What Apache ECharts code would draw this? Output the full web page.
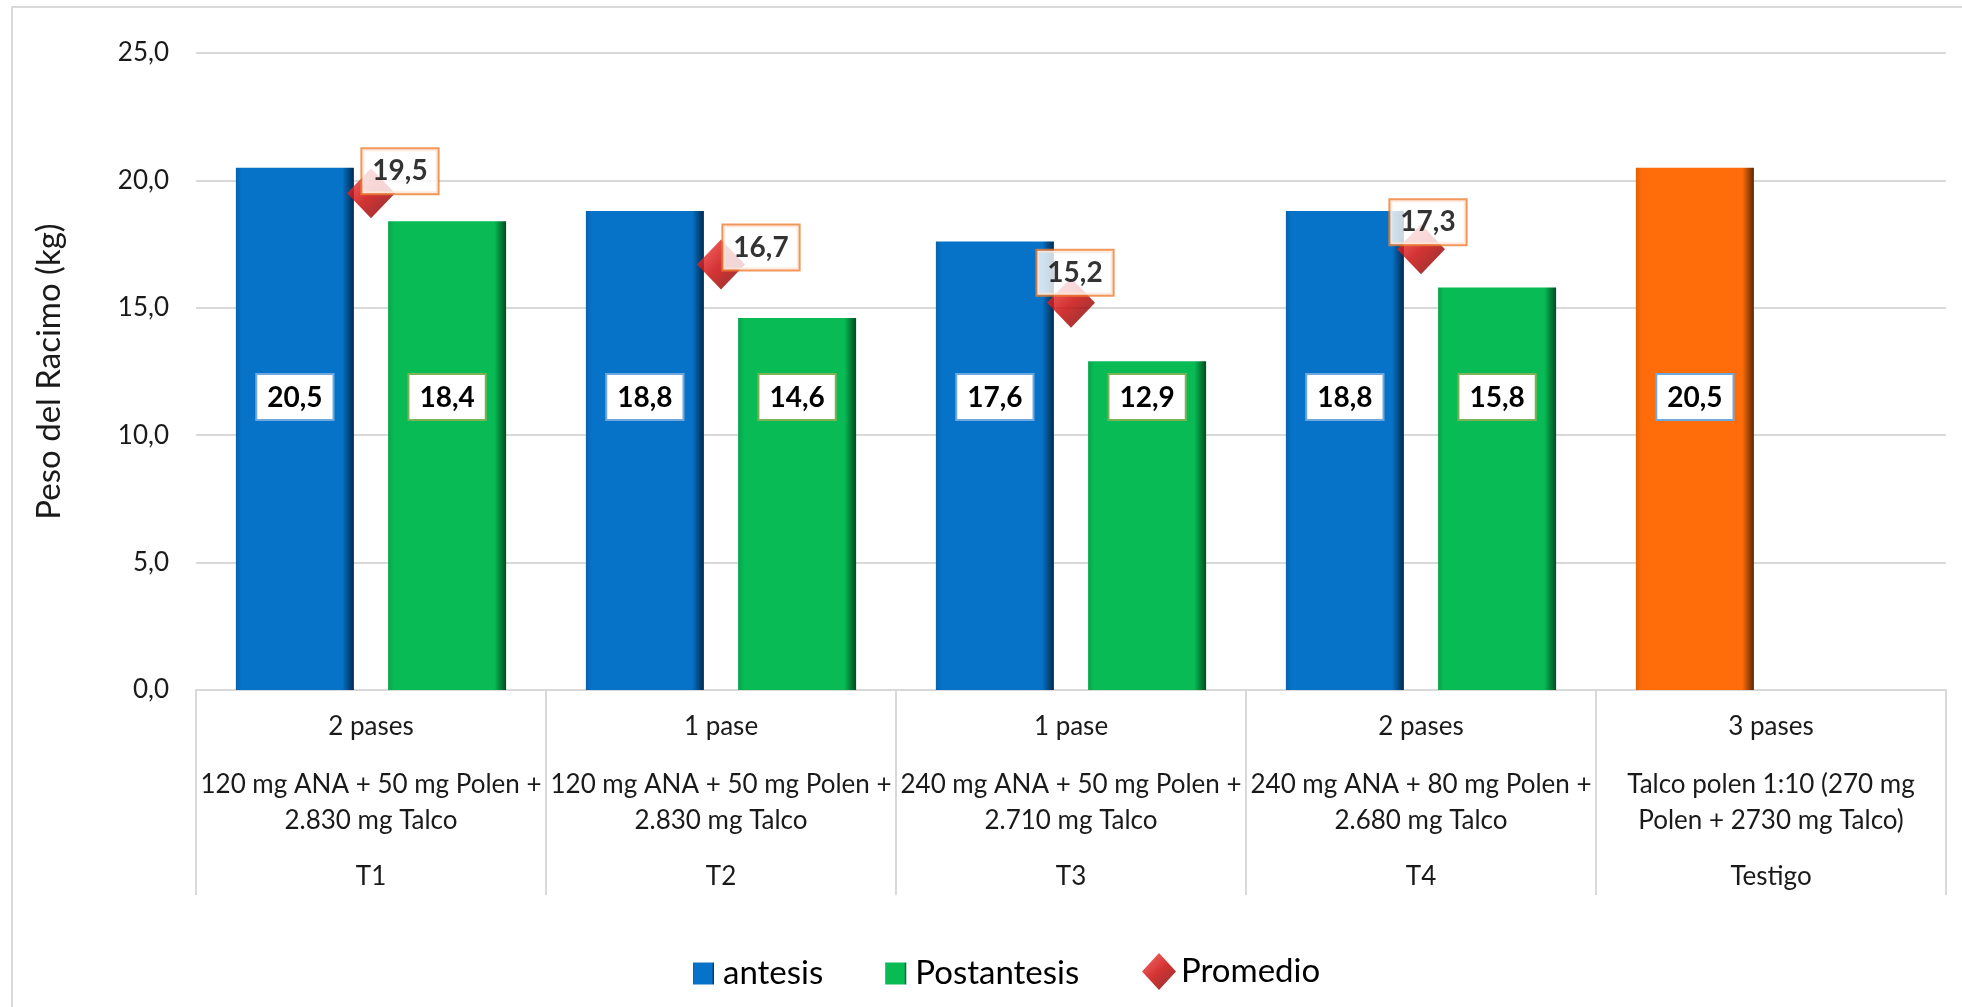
<!DOCTYPE html>
<html>
<head>
<meta charset="utf-8">
<script src="https://cdn.jsdelivr.net/npm/echarts@6/dist/echarts.min.js"></script>
<style>
  html, body { margin: 0; padding: 0; background: #fff; }
  #chart { width: 1962px; height: 1007px; }
</style>
</head>
<body>
<div id="chart"></div>
<script>
  // categories (three level axis)
  let pases = ['2 pases', '1 pase', '1 pase', '2 pases', '3 pases'];
  let dosis = [
    '120 mg ANA + 50 mg Polen +\n2.830 mg Talco',
    '120 mg ANA + 50 mg Polen +\n2.830 mg Talco',
    '240 mg ANA + 50 mg Polen +\n2.710 mg Talco',
    '240 mg ANA + 80 mg Polen +\n2.680 mg Talco',
    'Talco polen 1:10 (270 mg\nPolen + 2730 mg Talco)'
  ];
  let tratamientos = ['T1', 'T2', 'T3', 'T4', 'Testigo'];

  // series values
  let antesis = [20.5, 18.8, 17.6, 18.8, 20.5];
  let postantesis = [18.4, 14.6, 12.9, 15.8, null];
  let promedio = [19.5, 16.7, 15.2, 17.3, null];

  // y ticks
  let yMin = 0, yMax = 25, yStep = 5;

  let font = 'Lato';
  let txt = '#1a1a1a';
  let fmt = function (v) { return Number(v).toFixed(1).replace('.', ','); };

  function barGrad(c0, c1, c2) {
    return new echarts.graphic.LinearGradient(0, 0, 1, 0, [
      { offset: 0, color: c0 },
      { offset: 0.05, color: c1 },
      { offset: 0.9, color: c1 },
      { offset: 1, color: c2 }
    ]);
  }
  let blue = barGrad('#0562ae', '#0673c8', '#01284c');
  let green = barGrad('#07a449', '#08bb55', '#024d1f');
  let orange = barGrad('#e35f00', '#ff6d0a', '#5e2700');
  let red = new echarts.graphic.LinearGradient(0, 0, 1, 1, [
    { offset: 0, color: '#ff4a4a' },
    { offset: 0.5, color: '#c80000' },
    { offset: 1, color: '#6e0000' }
  ]);

  // hand placed average labels, like in the original sheet
  let promOffsets = [[29, -22], [40, -17], [4, -30], [7, -27], [0, 0]];

  let categories = tratamientos.map(function (t, i) {
    return '{a|' + pases[i] + '}\n' + dosis[i].split('\n').map(function (s, k) {
      return (k === 0 ? '{b|' : '{c|') + s + '}';
    }).join('\n') + '\n{d|' + t + '}';
  });

  let labelBox = function (border) {
    return {
      show: true,
      position: 'insideBottom',
      distance: 271,
      formatter: function (p) { return fmt(p.value); },
      fontFamily: font,
      fontWeight: 'bold',
      fontSize: 28,
      color: '#000',
      backgroundColor: '#fff',
      borderColor: border,
      borderWidth: 2,
      padding: [9, 10, 7, 10]
    };
  };

  let chart = echarts.init(document.getElementById('chart'));
  chart.setOption({
    animation: false,
    backgroundColor: '#fff',
    graphic: [{
      type: 'rect',
      shape: { x: 12, y: 7, width: 1970, height: 1020 },
      style: { fill: null, stroke: '#d9d9d9', lineWidth: 2 },
      silent: true
    }],
    grid: { left: 196, right: 16, top: 53, bottom: 317 },
    legend: [{
      data: [{ name: 'antesis', icon: 'rect' }, { name: 'Postantesis', icon: 'rect' }],
      left: 693,
      top: 957,
      padding: 0,
      itemWidth: 21,
      itemHeight: 22,
      itemGap: 62,
      textStyle: { fontFamily: font, fontSize: 33, color: '#000', padding: [0, 0, 0, 4] }
    }, {
      data: ['Promedio'],
      left: 1142,
      top: 953,
      padding: 0,
      itemWidth: 34,
      itemHeight: 37,
      textStyle: { fontFamily: font, fontSize: 33, color: '#000' }
    }],
    xAxis: {
      type: 'category',
      data: categories,
      axisLine: { lineStyle: { color: '#d9d9d9', width: 2 } },
      axisTick: { show: true, length: 205, lineStyle: { color: '#d9d9d9', width: 2 } },
      axisLabel: {
        interval: 0,
        margin: 0,
        color: txt,
        fontFamily: font,
        fontSize: 26,
        rich: {
          a: { fontFamily: font, fontSize: 26, color: txt, lineHeight: 74 },
          b: { fontFamily: font, fontSize: 26, color: txt, lineHeight: 42 },
          c: { fontFamily: font, fontSize: 26, color: txt, lineHeight: 30 },
          d: { fontFamily: font, fontSize: 26, color: txt, lineHeight: 82 }
        }
      }
    },
    yAxis: {
      type: 'value',
      min: yMin,
      max: yMax,
      interval: yStep,
      name: 'Peso del Racimo (kg)',
      nameLocation: 'middle',
      nameGap: 130,
      nameTextStyle: { fontFamily: font, fontSize: 33, color: txt },
      axisLine: { show: false },
      axisTick: { show: false },
      axisLabel: {
        margin: 27,
        fontFamily: font,
        fontSize: 26,
        color: txt,
        formatter: fmt
      },
      splitLine: { lineStyle: { color: '#d9d9d9', width: 2 } }
    },
    series: [{
      name: 'antesis',
      type: 'bar',
      barWidth: 118,
      barGap: '29%',
      itemStyle: { color: blue },
      data: antesis.map(function (v, i) {
        return tratamientos[i] === 'Testigo' ? { value: v, itemStyle: { color: orange } } : v;
      }),
      label: labelBox('#6fa8dc'),
      z: 2
    }, {
      name: 'Postantesis',
      type: 'bar',
      barWidth: 118,
      barGap: '29%',
      itemStyle: { color: green },
      data: postantesis,
      label: labelBox('#7cb356'),
      z: 2
    }, {
      name: 'Promedio',
      type: 'scatter',
      symbol: 'diamond',
      symbolSize: [48, 50],
      itemStyle: { color: red },
      data: promedio.map(function (v, i) {
        return v === null ? null : {
          value: v,
          label: { offset: promOffsets[i] }
        };
      }),
      label: {
        show: true,
        position: 'inside',
        formatter: function (p) { return fmt(p.value); },
        fontFamily: font,
        fontWeight: 'bold',
        fontSize: 28,
        color: '#000',
        backgroundColor: '#fff',
        borderColor: '#ed7d31',
        borderWidth: 2,
        padding: [9, 10, 7, 10]
      },
      z: 5
    }]
  });
</script>
</body>
</html>
